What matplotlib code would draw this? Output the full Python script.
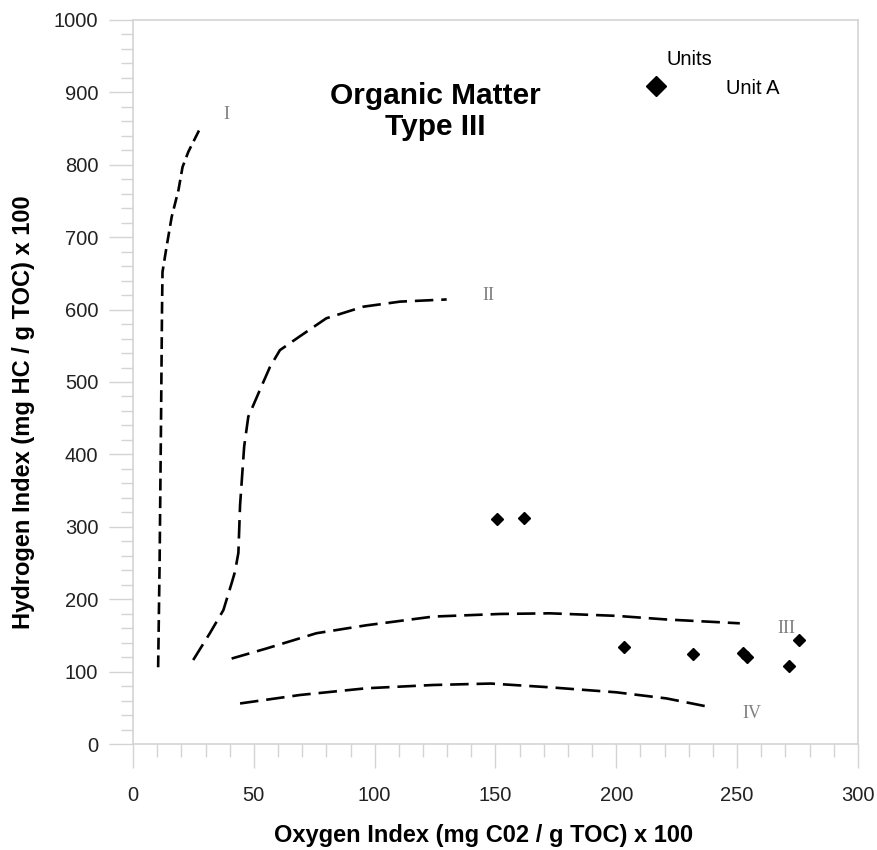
import matplotlib.pyplot as plt
from matplotlib.ticker import MultipleLocator

plt.rcParams['font.family'] = ['Liberation Sans', 'DejaVu Sans']

# sample points (Unit A)
oi_unit_a = [150.6, 161.7, 203.1, 231.6, 252.3, 253.9, 271.4, 275.7]
hi_unit_a = [311, 312.6, 134.4, 124.7, 125.2, 119.7, 108.2, 144.1]

# kerogen type guide curves
type1_x = [10.4, 11.0, 11.6, 12.0, 12.2, 13.9, 16.0, 18.8, 20.5, 22.9, 27.7]
type1_y = [106, 250, 450, 600, 652, 687, 728, 765, 797, 818, 850]
type2_x = [24.9, 31.8, 37.4, 40.8, 42.2, 43.6, 44.3, 46.0, 47.7, 49.8, 52.5,
           56.7, 60.8, 69.0, 80.0, 95.3, 110.5, 129.8]
type2_y = [116, 153, 185, 222, 238, 264, 330, 411, 452, 468, 489,
           521, 544, 563, 588, 604, 611, 614]
type3_x = [40.8, 55.3, 75.9, 96.6, 124.2, 151.8, 172.5, 200.0, 220.7, 251.1]
type3_y = [118, 132, 153, 164, 176, 179.6, 180.5, 177, 172, 166.7]
type4_x = [44.3, 69.1, 96.6, 124.2, 148.0, 172.5, 200.0, 220.7, 238.0]
type4_y = [56, 67.7, 77, 81.5, 83.5, 78.3, 71.4, 63, 51.5]

curve_labels = ['I', 'II', 'III', 'IV']
label_x = [38.7, 147, 270.4, 256]
label_y = [869, 619, 160, 42]

fig = plt.figure(figsize=(8.78, 8.5), dpi=100)
ax = fig.add_axes([0.1515, 0.1247, 0.8257, 0.8518])

dash = (0, (7, 3))
ax.plot(type1_x, type1_y, color='black', lw=1.9, linestyle=(0, (4.5, 2.2)))
ax.plot(type2_x, type2_y, color='black', lw=1.9, linestyle=dash)
ax.plot(type3_x, type3_y, color='black', lw=1.9, linestyle=dash)
ax.plot(type4_x, type4_y, color='black', lw=1.9, linestyle=dash)

for lab, lx, ly in zip(curve_labels, label_x, label_y):
    ax.text(lx, ly, lab, family='Liberation Serif', fontsize=13, color='#808080',
            ha='center', va='center')

ax.plot(oi_unit_a, hi_unit_a, linestyle='none', marker='D', ms=6, color='black',
        label='Unit A')

ax.text(125.2, 873.6, 'Organic Matter\nType III', fontsize=21.5, fontweight='bold',
        ha='center', va='center', linespacing=1.1)

# legend: title drawn separately so it sits where the original has it
ax.text(0.7676, 0.9448, 'Units', transform=ax.transAxes, fontsize=14.5,
        ha='center', va='center')
leg = ax.legend(loc='center left', bbox_to_anchor=(0.682, 0.906), frameon=False,
                fontsize=14.5, markerscale=1.7, handletextpad=3.0,
                handlelength=1.0)

ax.set_xlim(0, 300)
ax.set_ylim(0, 1000)
ax.xaxis.set_major_locator(MultipleLocator(50))
ax.xaxis.set_minor_locator(MultipleLocator(10))
ax.yaxis.set_major_locator(MultipleLocator(100))
ax.yaxis.set_minor_locator(MultipleLocator(20))

for sp in ax.spines.values():
    sp.set_color('#d4d4d4')
    sp.set_linewidth(1.2)
ax.tick_params(which='major', length=17, width=1.0, color='#d4d4d4',
               labelsize=14.5, labelcolor='#222222')
ax.tick_params(axis='x', which='major', pad=13)
ax.tick_params(axis='y', which='major', pad=8)
ax.tick_params(which='minor', length=9, width=1.0, color='#d4d4d4')

ax.set_xlabel('Oxygen Index (mg C02 / g TOC) x 100', fontsize=17,
              fontweight='bold', va='center')
ax.set_ylabel('Hydrogen Index (mg HC / g TOC) x 100', fontsize=17,
              fontweight='bold', va='center')
ax.xaxis.set_label_coords(0.483, -0.1257)
ax.yaxis.set_label_coords(-0.151, 0.4586)

fig.savefig('out.png', dpi=100)
